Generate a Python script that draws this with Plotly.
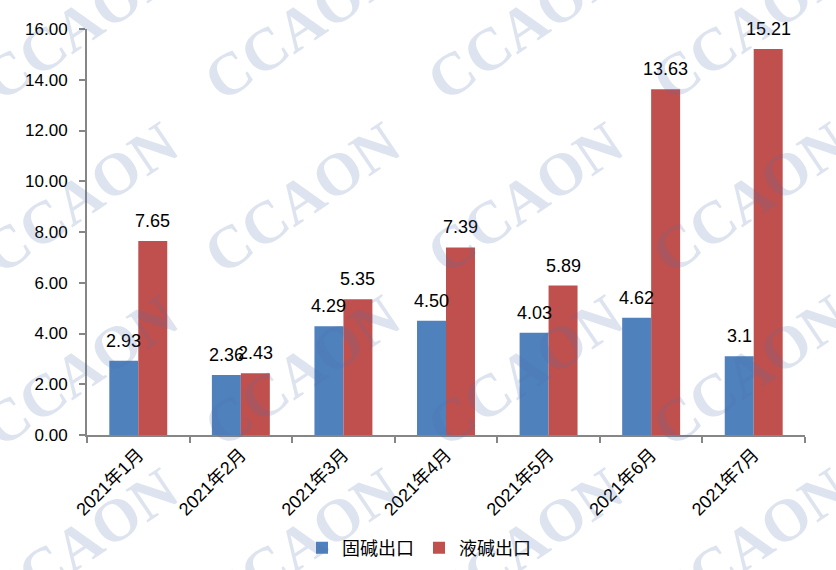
import plotly.graph_objects as go

categories = ["2021年1月", "2021年2月", "2021年3月", "2021年4月", "2021年5月", "2021年6月", "2021年7月"]
solid_name = "固碱出口"
liquid_name = "液碱出口"
solid_values = [2.93, 2.36, 4.29, 4.50, 4.03, 4.62, 3.1]
liquid_values = [7.65, 2.43, 5.35, 7.39, 5.89, 13.63, 15.21]
solid_labels = ["2.93", "2.36", "4.29", "4.50", "4.03", "4.62", "3.1"]
liquid_labels = ["7.65", "2.43", "5.35", "7.39", "5.89", "13.63", "15.21"]
y_ticks = [0, 2, 4, 6, 8, 10, 12, 14, 16]

W, H = 836, 570
ML, MR, MT, MB = 87, 31, 29, 135
PW, PH = W - ML - MR, H - MT - MB
FONT = "Liberation Sans, Noto Sans CJK SC, sans-serif"
BLUE = "#4F81BD"
RED = "#C0504D"
AXIS = "#868686"
BARGAP = 0.435

fig = go.Figure()
fig.add_trace(go.Bar(x=categories, y=solid_values, name=solid_name, marker_color=BLUE,
                     marker_line_width=0))
fig.add_trace(go.Bar(x=categories, y=liquid_values, name=liquid_name, marker_color=RED,
                     marker_line_width=0))

# data labels
bar_px = PW / len(categories) * (1 - BARGAP) / 2
annotations = []
for labels, vals, sign in [(solid_labels, solid_values, -1), (liquid_labels, liquid_values, 1)]:
    for c, v, t in zip(categories, vals, labels):
        annotations.append(dict(x=c, y=v, xref="x", yref="y", text=t, showarrow=False,
                                xshift=sign * bar_px / 2, yshift=8, yanchor="bottom",
                                font=dict(family=FONT, size=18, color="#000000")))

# watermark
wm_x = [80, 302, 525, 750]
wm_y = [25, 198, 371, 544]
for py in wm_y:
    for px in wm_x:
        annotations.append(dict(x=(px - ML) / PW, y=(H - MB - py) / PH, xref="paper", yref="paper",
                                text="<b>CCAON</b>", showarrow=False, textangle=-34,
                                xanchor="center", yanchor="middle",
                                font=dict(family="Liberation Serif, serif", size=60,
                                          color="rgba(79,110,170,0.19)")))

fig.update_layout(
    width=W, height=H,
    margin=dict(l=ML, r=MR, t=MT, b=MB, autoexpand=False),
    paper_bgcolor="white", plot_bgcolor="white",
    barmode="group", bargap=BARGAP, bargroupgap=0,
    font=dict(family=FONT, size=17, color="#000000"),
    showlegend=True,
    legend=dict(orientation="h", x=(419 - ML) / PW, xanchor="center", y=(435 - 548) / PH, yanchor="middle",
                font=dict(family=FONT, size=18), itemwidth=30, tracegroupgap=0),
    annotations=annotations,
    xaxis=dict(type="category", tickangle=-45, tickson="boundaries", ticks="outside", ticklen=6,
               tickcolor=AXIS, tickwidth=2, showline=True, linecolor=AXIS, linewidth=2,
               showgrid=False, automargin=False, tickfont=dict(family=FONT, size=18)),
    yaxis=dict(range=[0, 16], tickvals=y_ticks, tickformat=".2f", ticks="outside", ticklen=6,
               tickcolor=AXIS, tickwidth=2, showline=True, linecolor=AXIS, linewidth=2,
               showgrid=False, zeroline=False, ticklabelstandoff=8, automargin=False,
               tickfont=dict(family=FONT, size=17)),
)

fig.write_html("out.html", config={"displayModeBar": False},
               post_script="document.body.style.margin='0';document.body.style.padding='0';")
